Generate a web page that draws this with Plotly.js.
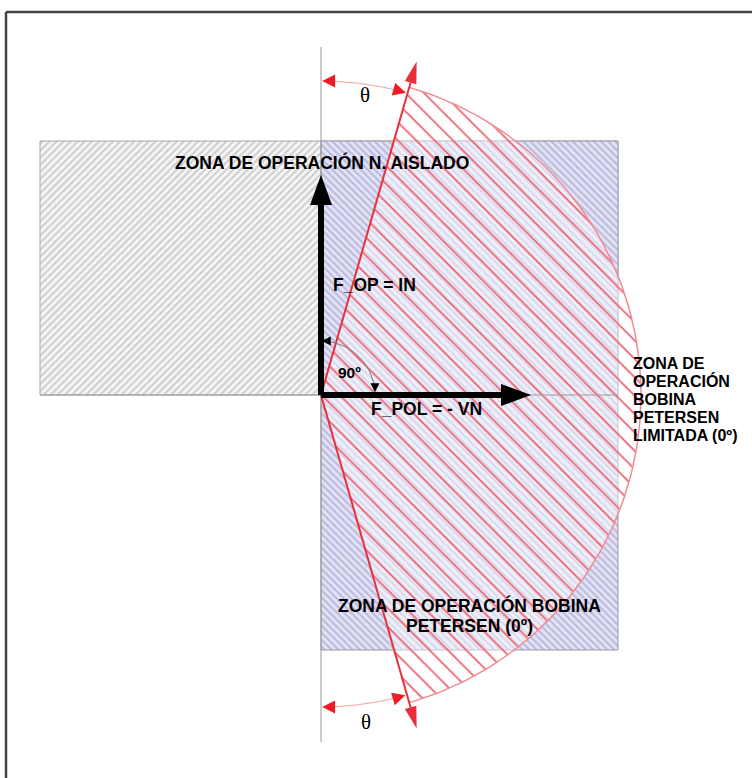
<!DOCTYPE html>
<html>
<head>
<meta charset="utf-8">
<script src="https://cdn.plot.ly/plotly-3.0.1.min.js"></script>
<style>html,body{margin:0;padding:0;background:#fff}#chart{width:752px;height:778px}</style>
</head>
<body>
<div id="chart"></div>
<script>
// ---- diagram data (pixel-space units) ----
const origin = [321, 395];
const thetaDeg = [16];                 // characteristic angle θ
const sectorRadius = [320];            // operating sector radius
const redLineLength = [347];           // limit line length
const thetaArcRadius = [314];
const rightArcRadius = [54];
const zoneAisladoX = [40, 618];
const zoneAisladoY = [141, 395];
const zonePetersenX = [321, 618];
const zonePetersenY = [141, 650];
const axisVertY = [47, 742];
const axisHorzX = [40, 618];
const fOpLength = [220];
const fPolLength = [210];
const rightLabelLines = ['ZONA DE', 'OPERACIÓN', 'BOBINA', 'PETERSEN', 'LIMITADA (0º)'];
const bottomLabelLines = ['ZONA DE OPERACIÓN BOBINA', 'PETERSEN (0º)'];
const topLabel = ['ZONA DE OPERACIÓN N. AISLADO'];
const vectorLabels = ['F_OP = IN', 'F_POL = - VN', '90º'];
const thetaLabel = ['θ'];

// ---- helpers ----
const ox = origin[0], oy = origin[1];
const rad = d => d * Math.PI / 180;
const th = thetaDeg[0];
// angle measured clockwise from "up" on screen
function pt(aDeg, r) { const a = rad(aDeg); return [ox + r * Math.sin(a), oy - r * Math.cos(a)]; }
function arc(a0, a1, r, n) { const xs = [], ys = []; for (let i = 0; i <= n; i++) { const p = pt(a0 + (a1 - a0) * i / n, r); xs.push(p[0]); ys.push(p[1]); } return [xs, ys]; }
function tri(tip, dir, L, W) {
  const n = [-dir[1], dir[0]];
  const b = [tip[0] - L * dir[0], tip[1] - L * dir[1]];
  return [[tip[0], b[0] + W * n[0], b[0] - W * n[0], tip[0]], [tip[1], b[1] + W * n[1], b[1] - W * n[1], tip[1]]];
}
function rectXY(xr, yr) { return [[xr[0], xr[1], xr[1], xr[0], xr[0]], [yr[0], yr[0], yr[1], yr[1], yr[0]]]; }
const traces = [];
function poly(xy, opts) { traces.push(Object.assign({ x: xy[0], y: xy[1], mode: 'lines', hoverinfo: 'skip', line: { width: 0 } }, opts)); }
function line(xy, color, width) { traces.push({ x: xy[0], y: xy[1], mode: 'lines', hoverinfo: 'skip', line: { color: color, width: width } }); }
function fillTri(xy, color) { poly(xy, { fill: 'toself', fillcolor: color, line: { width: 0, color: color } }); }

// zones
poly(rectXY(zoneAisladoX, zoneAisladoY), { fill: 'toself', fillcolor: '#f6f6f6',
  fillpattern: { shape: '/', fgcolor: '#d0d0d0', bgcolor: '#f6f6f6', size: 5, solidity: 0.45 },
  line: { width: 1, color: '#aaaaaa' } });
poly(rectXY(zonePetersenX, zonePetersenY), { fill: 'toself', fillcolor: '#e8e8f5',
  fillpattern: { shape: '\\', fgcolor: '#bcbce2', bgcolor: '#e4e4f3', size: 5, solidity: 0.45 },
  line: { width: 1, color: '#9a9aa8' } });

// operating sector
const sec = arc(th, 180 - th, sectorRadius[0], 120);
const secX = [ox].concat(sec[0], [ox]), secY = [oy].concat(sec[1], [oy]);
poly([secX, secY], { fill: 'toself', fillcolor: 'rgba(255,255,255,0.45)' });
poly([secX, secY], { fill: 'toself', fillcolor: 'rgba(0,0,0,0)',
  fillpattern: { shape: '\\', fgcolor: '#f06070', size: 13, solidity: 0.13 } });
line(sec, '#f28a92', 1.5);

// axes lines
line([[ox, ox], axisVertY], '#999999', 1);
line([axisHorzX, [oy, oy]], '#999999', 1);

// red limit lines with arrowheads
const L = redLineLength[0];
const tTop = pt(th, L), tBot = pt(180 - th, L);
line([[ox, tTop[0] - 12 * Math.sin(rad(th))], [oy, tTop[1] + 12 * Math.cos(rad(th))]], '#e8303c', 2);
line([[ox, tBot[0] - 12 * Math.sin(rad(th))], [oy, tBot[1] - 12 * Math.cos(rad(th))]], '#e8303c', 2);
fillTri(tri(tTop, [Math.sin(rad(th)), -Math.cos(rad(th))], 22, 6), '#e8303c');
fillTri(tri(tBot, [Math.sin(rad(th)), Math.cos(rad(th))], 22, 6), '#e8303c');

// θ arcs (top and bottom)
const R = thetaArcRadius[0];
line(arc(2.5, th - 2.5, R, 40), '#f4a0a6', 1);
fillTri(tri(pt(0.2, R), [-1, 0], 13, 6.5), '#ee1c24');
fillTri(tri(pt(th - 0.3, R), [Math.cos(rad(th)), Math.sin(rad(th))], 13, 6.5), '#ee1c24');
line(arc(177.5, 180 - th + 2.5, R - 2, 40), '#f4a0a6', 1);
fillTri(tri(pt(179.8, R - 2), [-1, 0], 13, 6.5), '#ee1c24');
fillTri(tri(pt(180 - th + 0.3, R - 2), [Math.cos(rad(th)), -Math.sin(rad(th))], 13, 6.5), '#ee1c24');

// 90º arc
const r9 = rightArcRadius[0];
line(arc(4, 84, r9, 40), '#7a7a7a', 1);
fillTri(tri(pt(0.8, r9), [-1, 0], 9, 4.5), '#000000');
fillTri(tri(pt(87, r9), [0, 1], 9, 4.5), '#000000');

// black vectors
line([[ox, ox], [oy, oy - fOpLength[0] + 26]], '#000000', 6);
fillTri(tri([ox, oy - fOpLength[0]], [0, -1], 30, 11), '#000000');
line([[ox, ox + fPolLength[0] - 26], [oy, oy]], '#000000', 6);
fillTri(tri([ox + fPolLength[0], oy], [1, 0], 30, 11), '#000000');

// annotations
const bold = { family: 'Liberation Sans, Arial, sans-serif', size: 17.5, color: '#000' };
const ann = [];
function txt(t, x, y, xa, font) {
  ann.push({ text: t, x: x, y: y, xref: 'x', yref: 'y', xanchor: xa, yanchor: 'middle', showarrow: false, font: font || bold, borderpad: 0 });
}
txt('<b>' + topLabel[0] + '</b>', 322, 162, 'center');
txt('<b>' + vectorLabels[0] + '</b>', 332, 285, 'left');
txt('<b>' + vectorLabels[1] + '</b>', 370, 409, 'left');
txt('<b>' + vectorLabels[2] + '</b>', 337, 372, 'left', { family: bold.family, size: 15.5, color: '#000' });
const rightFont = { family: bold.family, size: 16, color: '#000' };
rightLabelLines.forEach((s, i) => txt('<b>' + s + '</b>', 632, 363 + i * 18, 'left', rightFont));
bottomLabelLines.forEach((s, i) => txt('<b>' + s + '</b>', 469, 605 + i * 21, 'center'));
const serif = { family: 'Liberation Serif, Times New Roman, serif', size: 21, color: '#000' };
txt(thetaLabel[0], 365, 95, 'center', serif);
txt(thetaLabel[0], 366, 722, 'center', serif);

const layout = {
  width: 752, height: 778, margin: { l: 0, r: 0, t: 0, b: 0 },
  paper_bgcolor: '#fff', plot_bgcolor: '#fff', showlegend: false,
  xaxis: { range: [0, 752], visible: false, fixedrange: true },
  yaxis: { range: [778, 0], visible: false, fixedrange: true },
  annotations: ann,
  shapes: [
    { type: 'line', xref: 'x', yref: 'y', x0: 6, x1: 760, y0: 12, y1: 12, line: { color: '#444', width: 2.5 } },
    { type: 'line', xref: 'x', yref: 'y', x0: 6, x1: 6, y0: 12, y1: 790, line: { color: '#444', width: 2.5 } }
  ]
};
Plotly.newPlot('chart', traces, layout, { staticPlot: true, displayModeBar: false });
</script>
</body>
</html>
